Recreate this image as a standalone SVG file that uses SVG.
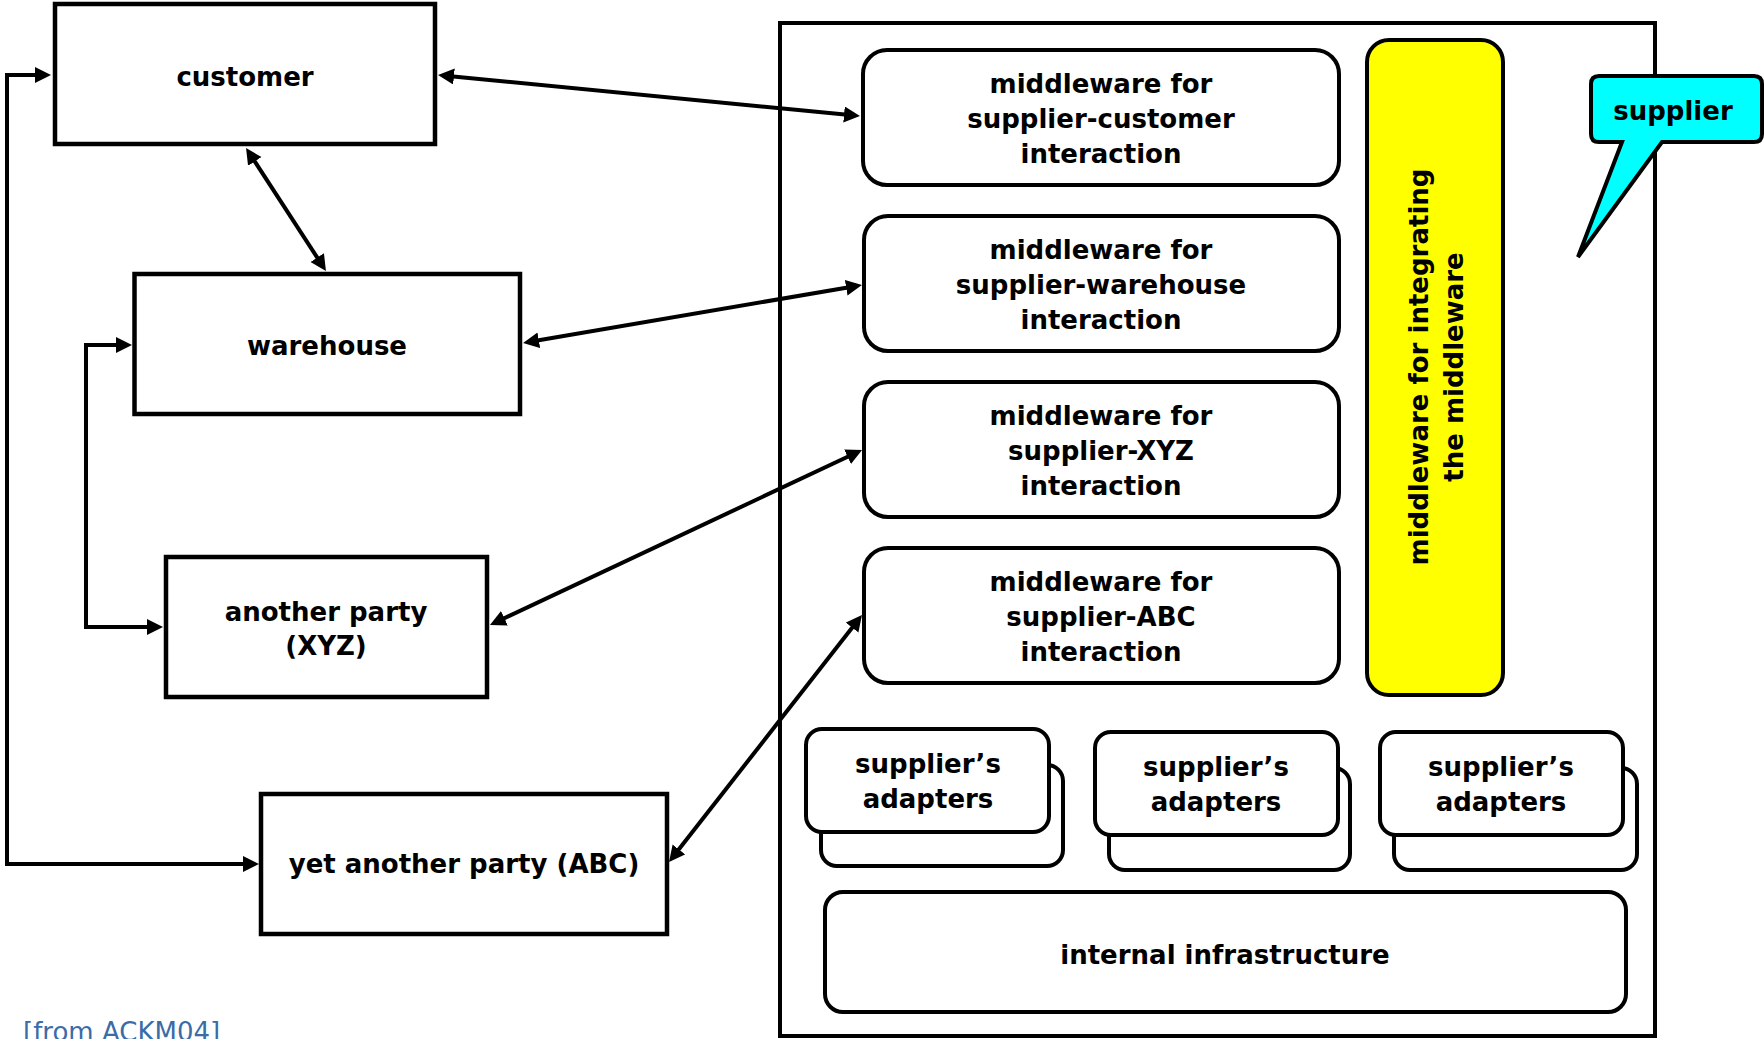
<svg xmlns="http://www.w3.org/2000/svg" width="1764" height="1039" viewBox="0 0 1764 1039">
<style>
  text { font-family: "DejaVu Sans", Verdana, sans-serif; font-weight: bold; font-size: 26px; fill: #000; text-anchor: middle; }
  .box { fill: #fff; stroke: #000; stroke-width: 4.5; }
  .rbox { fill: #fff; stroke: #000; stroke-width: 4; }
  .conn { fill: none; stroke: #000; stroke-width: 4; marker-start: url(#arr); marker-end: url(#arr); }
  .cite { font-family: "DejaVu Sans", sans-serif; font-weight: normal; font-size: 26px; fill: #3A6CA8; text-anchor: start; }
</style>
<defs>
  <marker id="arr" markerUnits="userSpaceOnUse" markerWidth="18" markerHeight="18" refX="6" refY="8" orient="auto-start-reverse">
    <path d="M0,0 L16,8 L0,16 z" fill="#000"/>
  </marker>
</defs>
<rect width="1764" height="1039" fill="#fff"/>

<g id="supplier-container">
  <rect x="780" y="23" width="875" height="1013" fill="none" stroke="#000" stroke-width="4"/>
</g>

<g id="customer">
  <rect class="box" x="55" y="4" width="380" height="140"/>
  <text x="245" y="86">customer</text>
</g>
<g id="warehouse">
  <rect class="box" x="134.5" y="274" width="385.5" height="140"/>
  <text x="327" y="355">warehouse</text>
</g>
<g id="another-party">
  <rect class="box" x="166" y="557" width="321" height="140"/>
  <text x="326" y="621">another party</text>
  <text x="326" y="655">(XYZ)</text>
</g>
<g id="yet-another-party">
  <rect class="box" x="261" y="794" width="406" height="140"/>
  <text x="464" y="873">yet another party (ABC)</text>
</g>

<g id="mw-customer">
  <rect class="rbox" x="863" y="50" width="476" height="135" rx="24"/>
  <text x="1101" y="93">middleware for</text>
  <text x="1101" y="128">supplier-customer</text>
  <text x="1101" y="163">interaction</text>
</g>
<g id="mw-warehouse">
  <rect class="rbox" x="864" y="216" width="475" height="135" rx="24"/>
  <text x="1101" y="259">middleware for</text>
  <text x="1101" y="294">supplier-warehouse</text>
  <text x="1101" y="329">interaction</text>
</g>
<g id="mw-xyz">
  <rect class="rbox" x="864" y="382" width="475" height="135" rx="24"/>
  <text x="1101" y="425">middleware for</text>
  <text x="1101" y="460">supplier-XYZ</text>
  <text x="1101" y="495">interaction</text>
</g>
<g id="mw-abc">
  <rect class="rbox" x="864" y="548" width="475" height="135" rx="24"/>
  <text x="1101" y="591">middleware for</text>
  <text x="1101" y="626">supplier-ABC</text>
  <text x="1101" y="661">interaction</text>
</g>

<g id="mw-integration">
  <rect x="1367" y="40" width="136" height="655" rx="22" fill="#ffff00" stroke="#000" stroke-width="4"/>
  <text transform="translate(1428,367) rotate(-90)">middleware for integrating</text>
  <text transform="translate(1463,367) rotate(-90)">the middleware</text>
</g>

<g id="adapters-1">
  <rect class="rbox" x="821" y="765" width="242" height="101" rx="16"/>
  <rect class="rbox" x="806" y="729" width="243" height="103" rx="16"/>
  <text x="928" y="773">supplier’s</text>
  <text x="928" y="808">adapters</text>
</g>
<g id="adapters-2">
  <rect class="rbox" x="1109" y="768" width="241" height="102" rx="16"/>
  <rect class="rbox" x="1095" y="732" width="243" height="103" rx="16"/>
  <text x="1216" y="776">supplier’s</text>
  <text x="1216" y="811">adapters</text>
</g>
<g id="adapters-3">
  <rect class="rbox" x="1394" y="768" width="243" height="102" rx="16"/>
  <rect class="rbox" x="1380" y="732" width="243" height="103" rx="16"/>
  <text x="1501" y="776">supplier’s</text>
  <text x="1501" y="811">adapters</text>
</g>

<g id="internal-infrastructure">
  <rect class="rbox" x="825" y="892" width="801" height="120" rx="18"/>
  <text x="1225" y="964">internal infrastructure</text>
</g>

<g id="supplier-callout">
  <path d="M1599,76 H1754 Q1762,76 1762,84 V134 Q1762,142 1754,142 H1662 L1578,257 L1622,142 H1599 Q1591,142 1591,134 V84 Q1591,76 1599,76 Z" fill="#00ffff" stroke="#000" stroke-width="4" stroke-linejoin="miter"/>
  <text x="1673" y="120">supplier</text>
</g>

<g id="connectors">
  <path class="conn" d="M448,76 L850,115"/>
  <path class="conn" d="M251.5,156.4 L320.5,262.6"/>
  <path class="conn" d="M532.9,341.3 L852.1,286.7"/>
  <path class="conn" d="M499,620.7 L853,454.3"/>
  <path class="conn" d="M675.2,854.1 L855.8,622.9"/>
  <path class="conn" d="M249,864 H7 V75 H41"/>
  <path class="conn" d="M122,345 H86 V627 H153"/>
</g>

<text class="cite" x="23" y="1041">[from ACKM04]</text>
</svg>
